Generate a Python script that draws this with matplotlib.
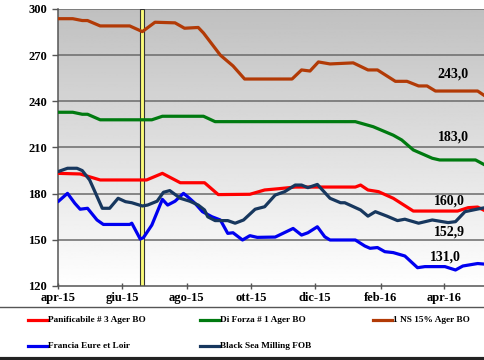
import numpy as np
import pandas as pd
import matplotlib
matplotlib.use("Agg")
import matplotlib.pyplot as plt
from matplotlib.lines import Line2D

# ---------------- data ----------------
ns_dates = ["2015-04-01","2015-04-15","2015-04-24","2015-04-29","2015-05-11","2015-06-08","2015-06-20",
            "2015-07-02","2015-07-21","2015-07-30","2015-08-12","2015-08-17","2015-09-02","2015-09-14",
            "2015-09-25","2015-11-09","2015-11-18","2015-11-26","2015-12-04","2015-12-15","2016-01-06",
            "2016-01-20","2016-01-29","2016-02-15","2016-02-26","2016-03-08","2016-03-16","2016-03-24",
            "2016-05-03","2016-05-10"]
ns_vals = [293.7,293.7,292.5,292.5,289,289,285.3,291.4,291,287.5,288,284.4,270,263,254.5,254.5,260.4,
           259.7,265.6,264.3,265,260.4,260.4,253,253,250,250,246.7,246.7,243.5]

forza_dates = ["2015-04-01","2015-04-15","2015-04-24","2015-04-29","2015-05-11","2015-06-29","2015-07-09",
               "2015-08-17","2015-08-28","2016-01-08","2016-01-25","2016-02-13","2016-02-21","2016-03-03",
               "2016-03-21","2016-03-28","2016-05-01","2016-05-10"]
forza_vals = [232.9,232.9,231.6,231.6,228,228,230.3,230.3,226.8,226.8,223.5,218,214.9,208.4,203,201.9,
              201.9,198.6]

pan_dates = ["2015-04-01","2015-04-22","2015-05-11","2015-06-24","2015-07-09","2015-07-26","2015-08-18",
             "2015-08-31","2015-09-30","2015-10-14","2015-10-27","2015-11-12","2016-01-08","2016-01-13",
             "2016-01-20","2016-01-30","2016-02-13","2016-03-03","2016-04-14","2016-04-24","2016-05-03",
             "2016-05-10"]
pan_vals = [193.2,192.8,188.9,188.9,193.2,187.1,187.1,179.4,179.6,182.4,183.2,184.3,184.3,185.6,182.4,
            181.3,177,168.7,168.7,170.9,171.3,168.9]

bs_dates = ["2015-04-01","2015-04-10","2015-04-19","2015-04-24","2015-05-01","2015-05-06","2015-05-13",
            "2015-05-20","2015-05-28","2015-06-04","2015-06-10","2015-06-20","2015-06-25","2015-07-04",
            "2015-07-10","2015-07-16","2015-07-26","2015-08-04","2015-08-12","2015-08-18","2015-08-21",
            "2015-08-28","2015-09-09","2015-09-16","2015-09-24","2015-10-05","2015-10-14","2015-10-24",
            "2015-11-02","2015-11-12","2015-11-18","2015-11-24","2015-12-03","2015-12-15","2015-12-25",
            "2015-12-29","2016-01-13","2016-01-20","2016-01-27","2016-02-07","2016-02-17","2016-02-24",
            "2016-03-08","2016-03-21","2016-04-05","2016-04-12","2016-04-21","2016-05-03","2016-05-10"]
bs_vals = [194.3,196.5,196.5,195,188.9,181.3,170.5,170.5,177,174.8,174.1,172,172.6,175.1,180.9,182,177,
           175.1,172.6,169.4,165,162.5,162.5,160.8,162.9,169.9,171.5,179.1,181.3,185.6,185.6,183.9,186,
           177,174.1,174.1,169.4,165.4,168.3,165.4,162.5,163.4,160.8,162.9,161.2,161.8,168.3,170,170.9]

fr_dates = ["2015-04-01","2015-04-10","2015-04-17","2015-04-22","2015-04-29","2015-05-08","2015-05-14",
            "2015-06-08","2015-06-10","2015-06-18","2015-06-21","2015-06-29","2015-07-09","2015-07-14",
            "2015-07-21","2015-07-29","2015-08-02","2015-08-09","2015-08-16","2015-08-25","2015-09-02",
            "2015-09-09","2015-09-14","2015-09-23","2015-09-30","2015-10-07","2015-10-24","2015-11-10",
            "2015-11-18","2015-11-24","2015-12-03","2015-12-10","2015-12-15","2016-01-08","2016-01-17",
            "2016-01-22","2016-01-29","2016-02-05","2016-02-13","2016-02-24","2016-03-07","2016-03-14",
            "2016-04-02","2016-04-12","2016-04-19","2016-05-03","2016-05-10"]
fr_vals = [174.8,180.2,173.7,169.9,170.5,162.9,160,160,160.8,150.5,151.4,159.6,176.3,172.6,175.1,180.2,
           178,173.7,168.3,165,162.9,154.2,154.6,149.9,152.7,151.6,151.8,157.4,153.1,154.6,158.5,152,
           149.9,149.9,146,144.5,145,142.3,141.7,139.5,131.9,132.6,132.6,130.4,133,134.6,134.2]

labels = ["Panificabile # 3 Ager BO", "Di Forza # 1 Ager BO", "1 NS 15% Ager BO",
          "Francia Eure et Loir", "Black Sea Milling FOB"]
colors = ["#ff0000", "#007a10", "#b23a06", "#0000f0", "#17375e"]

end_labels = ["243,0", "183,0", "160,0", "152,9", "131,0"]
end_label_x = ["2016-03-26", "2016-03-26", "2016-03-23", "2016-03-23", "2016-03-19"]
end_label_y = [258, 216.5, 175.2, 155.1, 138.6]

tick_dates = ["2015-04-01","2015-06-01","2015-08-01","2015-10-01","2015-12-01","2016-02-01","2016-04-01"]
tick_labels = ["apr-15","giu-15","ago-15","ott-15","dic-15","feb-16","apr-16"]
marker_start, marker_end = "2015-06-18", "2015-06-22"

# ---------------- figure ----------------
plt.rcParams['font.family'] = ['Liberation Serif', 'DejaVu Serif']
plt.rcParams['font.weight'] = 'bold'

fig = plt.figure(figsize=(4.85, 3.6), dpi=100)
ax = fig.add_axes([58/485, 1-286/360, 1-58/485, (286-9)/360])

xmin, xmax = pd.Timestamp("2015-04-01"), pd.Timestamp("2016-05-10")
ax.set_xlim(xmin, xmax)
ax.set_ylim(120, 300)

# gradient background
grad = np.linspace(1.0, 0.75, 256).reshape(-1, 1)
ax.imshow(grad, cmap="gray", vmin=0, vmax=1, aspect="auto", extent=[0, 1, 1, 0],
          transform=ax.transAxes, zorder=0)

yt = [120, 150, 180, 210, 240, 270, 300]
ax.set_yticks(yt)
ax.set_yticklabels([str(v) for v in yt])
for v in yt[1:]:
    ax.axhline(v, color="#6a6a6a", lw=1.1, zorder=1)

ax.set_xticks(pd.to_datetime(tick_dates))
ax.set_xticklabels(tick_labels)

ax.axvspan(pd.Timestamp(marker_start), pd.Timestamp(marker_end), facecolor="#fafa7a",
           edgecolor="#333333", lw=0.8, zorder=2)

series = [(pan_dates, pan_vals), (forza_dates, forza_vals), (ns_dates, ns_vals),
          (fr_dates, fr_vals), (bs_dates, bs_vals)]
for (d, v), c, lab in zip(series, colors, labels):
    ax.plot(pd.to_datetime(d), v, color=c, lw=2.3, zorder=3, solid_joinstyle="round",
            solid_capstyle="round", label=lab)

for s, xd, v in zip(end_labels, end_label_x, end_label_y):
    ax.text(pd.Timestamp(xd), v, s, fontsize=10, fontweight="bold", ha="left",
            va="center", zorder=4)

for sp in ["top", "right"]:
    ax.spines[sp].set_visible(False)
for sp in ["left", "bottom"]:
    ax.spines[sp].set_color("#555555")
    ax.spines[sp].set_linewidth(1.1)
ax.tick_params(axis="y", direction="out", length=4, width=1, color="#555555", labelsize=9, pad=4)
ax.tick_params(axis="x", direction="inout", length=5, width=1, color="#555555", labelsize=9, pad=2)
for t in ax.get_xticklabels() + ax.get_yticklabels():
    t.set_fontweight("bold")

# legend area
fig.add_artist(Line2D([0, 1], [1-307/360, 1-307/360], color="#555555", lw=1.0))
fig.add_artist(Line2D([0, 1], [1-358.5/360, 1-358.5/360], color="#222222", lw=3.0))
pos = [(28, 320), (200, 320), (373, 320), (28, 346), (200, 346)]
for (px, py), c, lab in zip(pos, colors, labels):
    y = 1 - py/360
    fig.add_artist(Line2D([px/485, (px+19)/485], [y, y], color=c, lw=2.3))
    fig.text((px+20)/485, y, lab, fontsize=6.7, fontweight="bold", va="center", ha="left")

fig.savefig("out.png", dpi=100)
